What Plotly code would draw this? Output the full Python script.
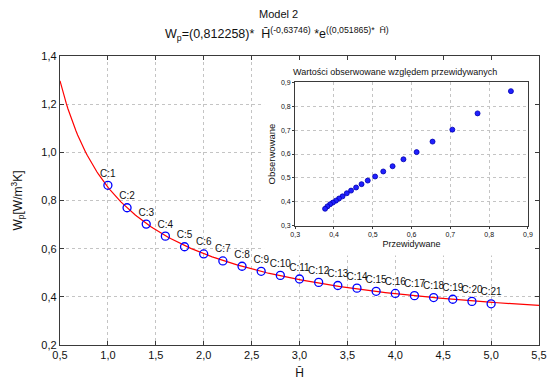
import numpy as np
import plotly.graph_objects as go

# ---- data ----
h_bar = [1.0, 1.2, 1.4, 1.6, 1.8, 2.0, 2.2, 2.4, 2.6, 2.8, 3.0,
         3.2, 3.4, 3.6, 3.8, 4.0, 4.2, 4.4, 4.6, 4.8, 5.0]
w_observed = [0.863, 0.770, 0.702, 0.652, 0.608, 0.578, 0.549, 0.527, 0.506, 0.489, 0.474,
              0.460, 0.447, 0.436, 0.423, 0.414, 0.405, 0.397, 0.390, 0.381, 0.371]
w_predicted = [0.856, 0.770, 0.705, 0.654, 0.613, 0.579, 0.551, 0.527, 0.506, 0.487, 0.471,
               0.457, 0.444, 0.433, 0.422, 0.413, 0.405, 0.397, 0.390, 0.383, 0.377]
point_labels = [f"C:{i}" for i in range(1, 22)]

# fitted model parameters (from title)
p_a = 0.812258
p_b = -0.63746
p_c = 0.051865
curve_range = [0.5, 5.5]

h_curve = np.linspace(curve_range[0], curve_range[1], 300)
w_curve = p_a * h_curve ** p_b * np.exp(p_c * h_curve)

FONT = "Liberation Sans, Arial, sans-serif"
AXC = "#3a3a3a"
GRIDC = "#c4c4c4"
HBAR = "H\u0304"

fig = go.Figure()

fig.add_trace(go.Scatter(x=h_curve, y=w_curve, mode="lines",
                         line=dict(color="#ff0000", width=1.2),
                         hoverinfo="skip", showlegend=False))
fig.add_trace(go.Scatter(x=h_bar, y=w_observed, mode="markers+text",
                         text=point_labels, textposition="top center",
                         textfont=dict(family=FONT, size=10, color="#111"),
                         marker=dict(symbol="circle-open", size=8,
                                     color="#0000ff", line=dict(width=1.3, color="#0000ff")),
                         showlegend=False))

# inset
fig.add_trace(go.Scatter(x=w_predicted, y=w_observed, mode="markers",
                         xaxis="x2", yaxis="y2",
                         marker=dict(symbol="circle", size=5, color="#2020ff",
                                     line=dict(width=0.8, color="#0000b0")),
                         showlegend=False))

# page body has an 8px default margin -> figure is 8px smaller and offset
fig.update_layout(
    width=548, height=379,
    margin=dict(l=52, r=9, t=48, b=37),
    paper_bgcolor="white", plot_bgcolor="white",
    separators=", ",
    font=dict(family=FONT, size=11, color="#111"),
    xaxis=dict(range=[0.5, 5.5], dtick=0.5, tick0=0.5, tickformat=".1f",
               showline=True, linecolor=AXC, linewidth=1.3, mirror="ticks",
               ticks="inside", ticklen=4, tickcolor=AXC,
               showgrid=True, gridcolor=GRIDC, griddash="dot", gridwidth=1,
               zeroline=False,
               title=dict(text=HBAR, font=dict(size=12), standoff=8),
               tickfont=dict(size=11)),
    yaxis=dict(range=[0.2, 1.4], dtick=0.2, tick0=0.2, tickformat=".1f",
               showline=True, linecolor=AXC, linewidth=1.3, mirror="ticks",
               ticks="inside", ticklen=4, tickcolor=AXC,
               showgrid=True, gridcolor=GRIDC, griddash="dot", gridwidth=1,
               zeroline=False,
               title=dict(text="W<sub>p</sub>[W/m<sup>3</sup>K]", font=dict(size=12), standoff=16),
               tickfont=dict(size=11)),
    xaxis2=dict(domain=[0.491, 0.977], anchor="y2", range=[0.3, 0.9], dtick=0.1,
                tickformat=".1f",
                showline=True, linecolor=AXC, linewidth=1.3, mirror=True,
                ticks="outside", ticklen=2, tickcolor=AXC,
                showgrid=True, gridcolor=GRIDC, griddash="dot", gridwidth=1,
                zeroline=False, tickfont=dict(size=7),
                title=dict(text="Przewidywane", font=dict(size=9), standoff=3)),
    yaxis2=dict(domain=[0.4126, 0.909], anchor="x2", range=[0.3, 0.9], dtick=0.1,
                tickformat=".1f",
                showline=True, linecolor=AXC, linewidth=1.3, mirror=True,
                ticks="outside", ticklen=2, tickcolor=AXC,
                showgrid=True, gridcolor=GRIDC, griddash="dot", gridwidth=1,
                zeroline=False, tickfont=dict(size=7),
                title=dict(text="Obserwowane", font=dict(size=9.5), standoff=3)),
    shapes=[dict(type="rect", xref="x", yref="y",
                 x0=2.63, x1=5.5, y0=0.572, y1=1.4,
                 fillcolor="white", line=dict(width=0), layer="between")],
    annotations=[
        dict(text="Model 2", xref="paper", yref="paper", x=0.456, y=1.0,
             yshift=42, showarrow=False, font=dict(size=11), xanchor="center", yanchor="middle"),
        dict(text="W<sub>p</sub>=(0,812258)*  " + HBAR + "<sup>(-0,63746)</sup> *e<sup>((0,051865)*  " + HBAR + ")</sup>",
             xref="paper", yref="paper", x=0.452, y=1.0, yshift=22,
             showarrow=False, font=dict(size=12.5), xanchor="center", yanchor="middle"),
        dict(text="Wartości obserwowane względem przewidywanych",
             xref="paper", yref="paper", x=0.70, y=0.946,
             showarrow=False, font=dict(size=9), xanchor="center", yanchor="middle"),
    ],
)

fig.write_html("out.html")
